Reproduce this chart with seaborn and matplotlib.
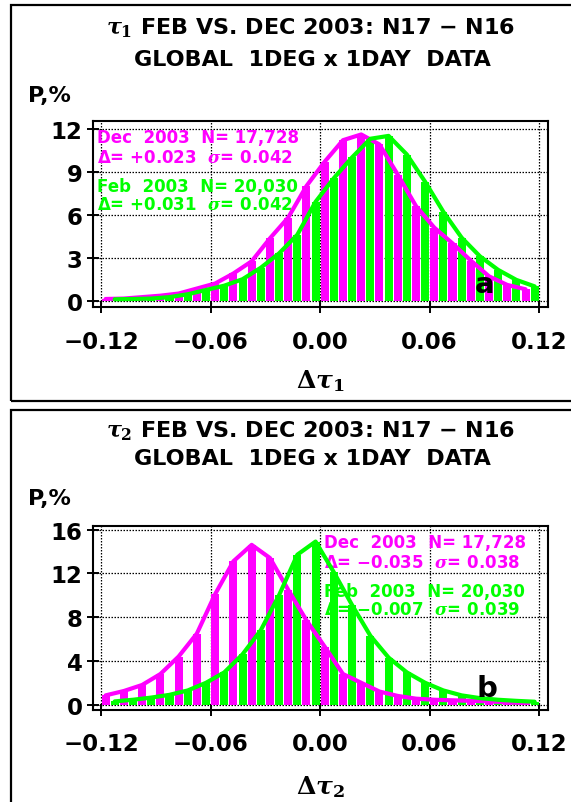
import numpy as np
import matplotlib
matplotlib.use("Agg")
import matplotlib.pyplot as plt
import seaborn as sns
from matplotlib.patches import Rectangle

# ---------------- data ----------------
bin_left = np.round(np.arange(-0.12, 0.12, 0.01), 3)   # 0.01-wide bins
xticks = [-0.12, -0.06, 0.00, 0.06, 0.12]
xticklabels = ["\u22120.12", "\u22120.06", "0.00", "0.06", "0.12"]
yticks_a = [0, 3, 6, 9, 12]
yticks_b = [0, 4, 8, 12, 16]

# panel a (tau1), P %
dec_a = [0.12, 0.15, 0.25, 0.35, 0.5, 0.85, 1.2, 1.9, 2.75, 4.35, 5.8, 8.0,
         9.7, 11.2, 11.6, 10.9, 8.8, 6.6, 5.1, 4.0, 2.8, 1.7, 1.1, 0.8]
feb_a = [0.1, 0.12, 0.15, 0.25, 0.45, 0.75, 1.05, 1.5, 2.3, 3.3, 4.6, 6.9,
         8.55, 10.0, 11.3, 11.5, 10.2, 8.3, 6.2, 4.4, 3.1, 2.15, 1.45, 1.0]
# panel b (tau2), P %
dec_b = [0.85, 1.25, 1.8, 2.8, 4.4, 6.5, 10.1, 13.1, 14.6, 13.4, 10.5, 7.7,
         5.3, 2.8, 2.0, 1.2, 0.8, 0.55, 0.45, 0.4, 0.35, 0.3, 0.2, 0.15]
feb_b = [0.3, 0.45, 0.65, 0.9, 1.3, 2.0, 2.95, 4.6, 6.8, 10.0, 13.7, 14.9,
         12.1, 9.1, 6.3, 4.3, 2.95, 2.0, 1.3, 0.85, 0.6, 0.45, 0.35, 0.27]

titles1 = [r"$\tau_1$ FEB VS. DEC 2003: N17 $\mathbf{-}$ N16",
           r"$\tau_2$ FEB VS. DEC 2003: N17 $\mathbf{-}$ N16"]
title2 = "GLOBAL  1DEG x 1DAY  DATA"
xlabels = [r"$\Delta\tau_1$", r"$\Delta\tau_2$"]
notes_a = ["Dec  2003  N= 17,728", "\u0394= +0.023  $\\sigma$= 0.042",
           "Feb  2003  N= 20,030", "\u0394= +0.031  $\\sigma$= 0.042"]
notes_b = ["Dec  2003  N= 17,728", "\u0394= \u22120.035  $\\sigma$= 0.038",
           "Feb  2003  N= 20,030", "\u0394= \u22120.007  $\\sigma$= 0.039"]
panel_tags = ["a", "b"]

MAG = "#FF00FF"
GRN = "#00FF00"

# ---------------- style ----------------
sns.set_style("ticks")
plt.rcParams["font.family"] = ["DejaVu Sans"]
plt.rcParams["font.weight"] = "bold"
plt.rcParams["mathtext.fontset"] = "dejavuserif"
plt.rcParams["text.color"] = "black"
plt.rcParams["xtick.color"] = "black"
plt.rcParams["ytick.color"] = "black"
plt.rcParams["xtick.labelcolor"] = "black"
plt.rcParams["ytick.labelcolor"] = "black"

W, H = 571, 803
fig = plt.figure(figsize=(W / 100, H / 100), dpi=100)


def fx(px):
    return px / W


def fy(py):
    return 1 - py / H


dec_x = bin_left + 0.0025
feb_x = bin_left + 0.0075

panels = [
    dict(top=121.7, bot=308.3, ylim=(-0.46, 12.56), yt=yticks_a, dec=dec_a, feb=feb_a,
         notes=notes_a, note_x=-0.1222, note_y=[11.42, 10.03, 8.0, 6.75],
         tag_xy=(0.0903, 0.61), box_top=6, box_bot=402, t1=28, t2=60, p=96, xl=381),
    dict(top=526.7, bot=710.5, ylim=(-0.44, 16.35), yt=yticks_b, dec=dec_b, feb=feb_b,
         notes=notes_b, note_x=0.0022, note_y=[14.83, 13.0, 10.41, 8.74],
         tag_xy=(0.0916, 0.8), box_top=410.7, box_bot=820, t1=431.3, t2=458.7, p=499, xl=787),
]

for i, P in enumerate(panels):
    ax = fig.add_axes([fx(93), fy(P["bot"]), fx(548 - 93), (P["bot"] - P["top"]) / H])
    ax.set_axisbelow(True)
    sns.barplot(x=dec_x, y=P["dec"], native_scale=True, width=0.44, color=MAG,
                saturation=1, errorbar=None, linewidth=0, ax=ax, zorder=2)
    sns.barplot(x=feb_x, y=P["feb"], native_scale=True, width=0.44, color=GRN,
                saturation=1, errorbar=None, linewidth=0, ax=ax, zorder=2)
    sns.lineplot(x=dec_x, y=P["dec"], color=MAG, linewidth=3.0, ax=ax, zorder=3)
    sns.lineplot(x=feb_x, y=P["feb"], color=GRN, linewidth=3.0, ax=ax, zorder=3)

    ax.set_xlim(-0.1244, 0.1248)
    ax.set_ylim(*P["ylim"])
    ax.set_xticks(xticks)
    ax.set_xticklabels(xticklabels)
    ax.set_yticks(P["yt"])
    ax.set_yticklabels([str(v) for v in P["yt"]])
    ax.set_xlabel("")
    ax.set_ylabel("")
    ax.grid(True, color="black", linestyle=(0, (1.2, 1.2)), linewidth=0.9)
    for s in ax.spines.values():
        s.set_linewidth(1.5)
        s.set_color("black")
    ax.tick_params(axis="both", direction="inout", length=9, width=1.4,
                   labelsize=16.5, colors="black")
    ax.tick_params(axis="x", pad=12)
    ax.tick_params(axis="y", pad=3)
    for lab in ax.get_xticklabels() + ax.get_yticklabels():
        lab.set_fontweight("bold")
        lab.set_color("black")

    colors = [MAG, MAG, GRN, GRN]
    for txt, yy, c in zip(P["notes"], P["note_y"], colors):
        ax.text(P["note_x"], yy, txt, color=c, fontsize=12, fontweight="bold",
                va="center", ha="left", zorder=1.5)
    ax.text(P["tag_xy"][0], P["tag_xy"][1], panel_tags[i], fontsize=21,
            fontweight="bold", ha="center", va="baseline", zorder=4, color="black")

    fig.text(fx(311), fy(P["t1"]), titles1[i], fontsize=16, fontweight="bold",
             ha="center", va="center", color="black")
    fig.text(fx(312), fy(P["t2"]), title2, fontsize=16, fontweight="bold",
             ha="center", va="center", color="black")
    fig.text(fx(28), fy(P["p"]), "P,%", fontsize=16, fontweight="bold",
             ha="left", va="center", color="black")
    fig.text(fx(320), fy(P["xl"]), xlabels[i], fontsize=18, ha="center",
             va="center", color="black")

    fig.patches.append(Rectangle((fx(11), fy(P["box_bot"])), fx(600), (P["box_bot"] - P["box_top"]) / H,
                                 transform=fig.transFigure, fill=False,
                                 edgecolor="black", linewidth=1.6))

fig.savefig("out.png", dpi=100)
